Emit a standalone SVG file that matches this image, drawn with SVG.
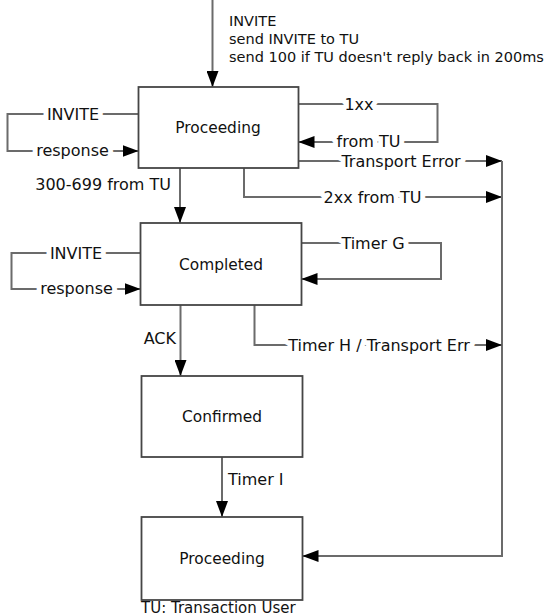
<svg xmlns="http://www.w3.org/2000/svg" width="547" height="616" viewBox="0 0 547 616">
  <defs>
    <marker id="arrow" markerUnits="userSpaceOnUse" markerWidth="16" markerHeight="12" refX="16" refY="6" orient="auto">
      <path d="M0,0 L16,6 L0,12 z" fill="#000"/>
    </marker>
  </defs>
  <style>
    .state rect { fill: #fff; stroke: #454545; stroke-width: 1.8; }
    .state text { font-family: "DejaVu Sans", Verdana, sans-serif; font-size: 15.4px; fill: #111; text-anchor: middle; }
    .edge { fill: none; stroke: #6b6b6b; stroke-width: 2; }
    .arr { marker-end: url(#arrow); }
    .lbl { font-family: "DejaVu Sans", Verdana, sans-serif; font-size: 16px; fill: #111; }
    .top { font-size: 14.5px; }
    .note { font-size: 15px; }
    .mid { text-anchor: middle; stroke: #fff; stroke-width: 10; stroke-linejoin: round; paint-order: stroke; }
    .end { text-anchor: end; }
  </style>
  <rect width="547" height="616" fill="#fff"/>

  <!-- transitions -->
  <g id="connectors">
    <path class="edge arr" d="M212.5,0 V87"/>
    <path class="edge arr" d="M138.5,114 H7.5 V151 H138.5"/>
    <path class="edge arr" d="M298.5,104 H437.5 V142 H298.5"/>
    <path class="edge arr" d="M298.5,161 H502"/>
    <path class="edge arr" d="M244,168 V197 H502"/>
    <path class="edge arr" d="M180,168 V223"/>
    <path class="edge arr" d="M502,161 V556 H302.5"/>
    <path class="edge arr" d="M140.5,253 H11.5 V289 H140.5"/>
    <path class="edge arr" d="M301.5,243 H441 V279 H301.5"/>
    <path class="edge arr" d="M254.5,305 V345 H502"/>
    <path class="edge arr" d="M180.5,305 V376"/>
    <path class="edge arr" d="M222,457 V517"/>

    <text class="lbl top" x="229" y="25.5">INVITE</text>
    <text class="lbl top" x="229" y="43.5">send INVITE to TU</text>
    <text class="lbl top" x="229" y="61.5">send 100 if TU doesn't reply back in 200ms</text>

    <text class="lbl mid" x="73" y="119.5">INVITE</text>
    <text class="lbl mid" x="72.5" y="156">response</text>
    <text class="lbl mid" x="359" y="109.5">1xx</text>
    <text class="lbl mid" x="368.5" y="147">from TU</text>
    <text class="lbl mid" x="401" y="166.5">Transport Error</text>
    <text class="lbl mid" x="372.5" y="202.5">2xx from TU</text>
    <text class="lbl end" x="171" y="190">300-699 from TU</text>

    <text class="lbl mid" x="76" y="258.5">INVITE</text>
    <text class="lbl mid" x="76.5" y="294">response</text>
    <text class="lbl mid" x="373" y="248.5">Timer G</text>
    <text class="lbl mid" x="379" y="350.5">Timer H / Transport Err</text>
    <text class="lbl end" x="176" y="344">ACK</text>
    <text class="lbl" x="228" y="485">Timer I</text>
  </g>

  <g id="proceeding" class="state">
    <rect x="138.5" y="87" width="160" height="81"/>
    <text x="218" y="133">Proceeding</text>
  </g>
  <g id="completed" class="state">
    <rect x="140.5" y="223" width="161" height="82"/>
    <text x="221" y="269.5">Completed</text>
  </g>
  <g id="confirmed" class="state">
    <rect x="141.5" y="376" width="161" height="81"/>
    <text x="222" y="422">Confirmed</text>
  </g>
  <g id="terminated" class="state">
    <rect x="141.5" y="517" width="161" height="83"/>
    <text x="222" y="564">Proceeding</text>
  </g>

  <text class="lbl note" x="141" y="613">TU: Transaction User</text>
</svg>
